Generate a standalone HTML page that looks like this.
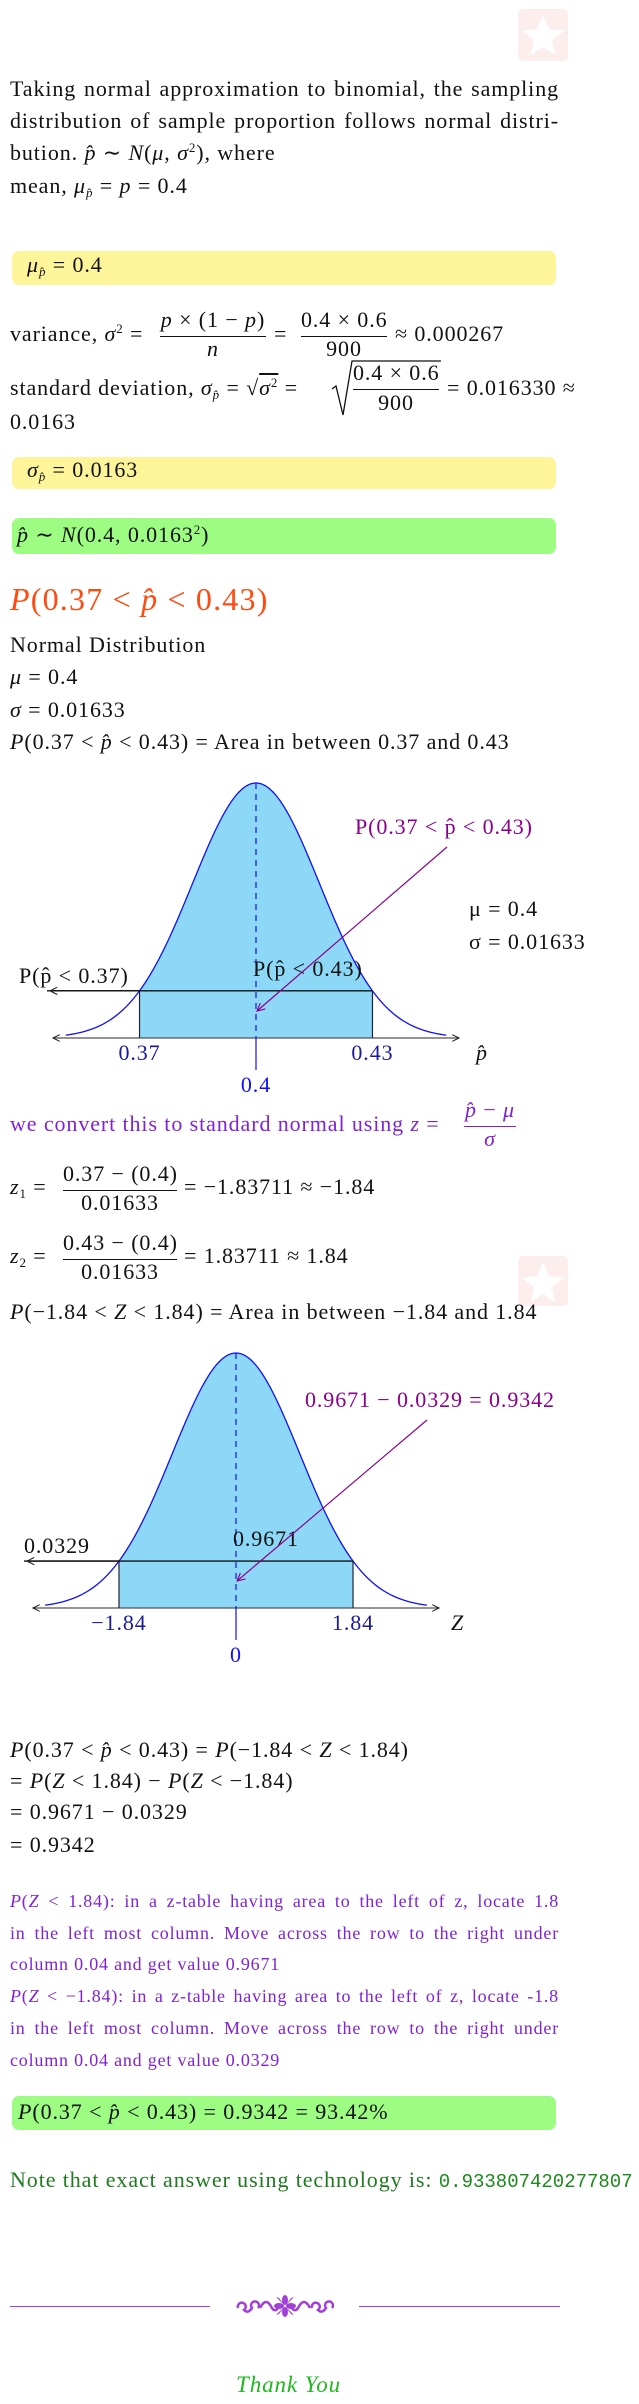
<!DOCTYPE html>
<html><head><meta charset="utf-8">
<style>
html,body{margin:0;padding:0;background:#fff;}
#page{position:relative;width:639px;height:2404px;overflow:hidden;font-family:"Liberation Serif",serif;color:#111;}
.l{position:absolute;white-space:nowrap;font-size:22px;line-height:22px;letter-spacing:0.9px;}
.j{text-align:justify;text-align-last:justify;white-space:normal;}
i{font-style:italic;}
sub{font-size:13px;vertical-align:-4px;line-height:0;}
sup{font-size:13px;vertical-align:8px;line-height:0;}
.box{position:absolute;left:12px;width:544px;border-radius:7px;}
.y{background:#fef59b;}
.g{background:#9dfc82;}
.bar{position:absolute;height:1px;background:#111;}
.pu{color:#7f22d8;font-size:18px;line-height:18px;letter-spacing:0.8px;}
svg text{font-family:"Liberation Serif",serif;letter-spacing:0.9px;}
</style></head><body>
<div id="page">

<svg style="position:absolute;left:518px;top:9px" width="50" height="52"><rect width="50" height="52" rx="5" fill="#fdeeee"/><polygon points="25,6 31,20 46,22 34,31 37,46 25,38 13,46 16,31 4,22 19,20" fill="#fff"/></svg>

<div class="l j" style="left:10px;top:78px;width:549px">Taking normal approximation to binomial, the sampling</div>
<div class="l j" style="left:10px;top:110px;width:549px">distribution of sample proportion follows normal distri-</div>
<div class="l" style="left:10px;top:142px">bution. <i>p̂</i> ∼ <i>N</i>(<i>μ</i>, <i>σ</i><sup>2</sup>), where</div>
<div class="l" style="left:10px;top:175px">mean, <i>μ</i><sub><i>p̂</i></sub> = <i>p</i> = 0.4</div>

<div class="box y" style="top:251px;height:34px"></div>
<div class="l" style="left:27px;top:254px"><i>μ</i><sub><i>p̂</i></sub> = 0.4</div>

<div class="l" style="left:10px;top:323px">variance, <i>σ</i><sup>2</sup> =</div>
<div class="l" style="left:160px;top:309px;width:106px;text-align:center"><i>p</i> × (1 − <i>p</i>)</div>
<div class="bar" style="left:160px;top:336px;width:106px"></div>
<div class="l" style="left:160px;top:338px;width:106px;text-align:center"><i>n</i></div>
<div class="l" style="left:274px;top:323px">=</div>
<div class="l" style="left:301px;top:309px;width:86px;text-align:center">0.4 × 0.6</div>
<div class="bar" style="left:301px;top:336px;width:86px"></div>
<div class="l" style="left:301px;top:338px;width:86px;text-align:center">900</div>
<div class="l" style="left:395px;top:323px">≈ 0.000267</div>

<div class="l" style="left:10px;top:377px">standard deviation, <i>σ</i><sub><i>p̂</i></sub> = √<span style="text-decoration:overline"><i>σ</i><sup>2</sup></span> =</div>
<svg style="position:absolute;left:330px;top:359px" width="112" height="60"><polyline points="2,30 6,27 13,56 22,2 111,2" fill="none" stroke="#111" stroke-width="1.3"/></svg>
<div class="l" style="left:353px;top:362px;width:86px;text-align:center">0.4 × 0.6</div>
<div class="bar" style="left:353px;top:389px;width:86px"></div>
<div class="l" style="left:353px;top:392px;width:86px;text-align:center">900</div>
<div class="l" style="left:447px;top:377px">= 0.016330 ≈</div>
<div class="l" style="left:10px;top:411px">0.0163</div>

<div class="box y" style="top:457px;height:32px"></div>
<div class="l" style="left:27px;top:459px"><i>σ</i><sub><i>p̂</i></sub> = 0.0163</div>

<div class="box g" style="top:518px;height:36px"></div>
<div class="l" style="left:17px;top:524px"><i>p̂</i> ∼ <i>N</i>(0.4, 0.0163<sup>2</sup>)</div>

<div class="l" style="left:10px;top:583px;font-size:32px;line-height:32px;letter-spacing:1.2px;color:#ff4a10"><i>P</i>(0.37 &lt; <i>p̂</i> &lt; 0.43)</div>
<div class="l" style="left:10px;top:634px">Normal Distribution</div>
<div class="l" style="left:10px;top:666px"><i>μ</i> = 0.4</div>
<div class="l" style="left:10px;top:699px"><i>σ</i> = 0.01633</div>
<div class="l" style="left:10px;top:731px"><i>P</i>(0.37 &lt; <i>p̂</i> &lt; 0.43) = Area in between 0.37 and 0.43</div>

<svg id="chart1" style="position:absolute;left:0;top:770px" width="639" height="340" viewBox="0 770 639 340"></svg>

<div class="l" style="left:10px;top:1113px;color:#7f22d8">we convert this to standard normal using <i>z</i> =</div>
<div class="l" style="left:464px;top:1099px;width:52px;text-align:center;color:#7f22d8"><i>p̂</i> − <i>μ</i></div>
<div class="bar" style="left:464px;top:1126px;width:52px;background:#7f22d8"></div>
<div class="l" style="left:464px;top:1128px;width:52px;text-align:center;color:#7f22d8"><i>σ</i></div>

<div class="l" style="left:10px;top:1176px"><i>z</i><sub>1</sub> =</div>
<div class="l" style="left:63px;top:1163px;width:114px;text-align:center">0.37 − (0.4)</div>
<div class="bar" style="left:63px;top:1190px;width:114px"></div>
<div class="l" style="left:63px;top:1192px;width:114px;text-align:center">0.01633</div>
<div class="l" style="left:184px;top:1176px">= −1.83711 ≈ −1.84</div>

<div class="l" style="left:10px;top:1245px"><i>z</i><sub>2</sub> =</div>
<div class="l" style="left:63px;top:1232px;width:114px;text-align:center">0.43 − (0.4)</div>
<div class="bar" style="left:63px;top:1259px;width:114px"></div>
<div class="l" style="left:63px;top:1261px;width:114px;text-align:center">0.01633</div>
<div class="l" style="left:184px;top:1245px">= 1.83711 ≈ 1.84</div>

<svg style="position:absolute;left:518px;top:1256px" width="50" height="50"><rect width="50" height="50" rx="5" fill="#fdeeee"/><polygon points="25,6 31,20 46,22 34,31 37,46 25,38 13,46 16,31 4,22 19,20" fill="#fff"/></svg>

<div class="l" style="left:10px;top:1301px"><i>P</i>(−1.84 &lt; <i>Z</i> &lt; 1.84) = Area in between −1.84 and 1.84</div>

<svg id="chart2" style="position:absolute;left:0;top:1340px" width="639" height="340" viewBox="0 1340 639 340"></svg>

<div class="l" style="left:10px;top:1739px"><i>P</i>(0.37 &lt; <i>p̂</i> &lt; 0.43) = <i>P</i>(−1.84 &lt; <i>Z</i> &lt; 1.84)</div>
<div class="l" style="left:10px;top:1770px">= <i>P</i>(<i>Z</i> &lt; 1.84) − <i>P</i>(<i>Z</i> &lt; −1.84)</div>
<div class="l" style="left:10px;top:1801px">= 0.9671 − 0.0329</div>
<div class="l" style="left:10px;top:1834px">= 0.9342</div>

<div class="l pu j" style="left:10px;top:1892px;width:549px"><i>P</i>(<i>Z</i> &lt; 1.84): in a z-table having area to the left of z, locate 1.8</div>
<div class="l pu j" style="left:10px;top:1924px;width:549px">in the left most column. Move across the row to the right under</div>
<div class="l pu" style="left:10px;top:1955px">column 0.04 and get value 0.9671</div>
<div class="l pu j" style="left:10px;top:1987px;width:549px"><i>P</i>(<i>Z</i> &lt; −1.84): in a z-table having area to the left of z, locate -1.8</div>
<div class="l pu j" style="left:10px;top:2019px;width:549px">in the left most column. Move across the row to the right under</div>
<div class="l pu" style="left:10px;top:2051px">column 0.04 and get value 0.0329</div>

<div class="box g" style="top:2096px;height:34px"></div>
<div class="l" style="left:18px;top:2101px"><i>P</i>(0.37 &lt; <i>p̂</i> &lt; 0.43) = 0.9342 = 93.42%</div>

<div class="l" style="left:10px;top:2169px;color:#1f7a1f">Note that exact answer using technology is: <span style="font-family:'Liberation Mono',monospace;font-size:19px;letter-spacing:0;color:#1a8a1a">0.933807420277807</span></div>

<div style="position:absolute;left:10px;top:2306px;width:200px;height:1px;background:#a040d8"></div>
<div style="position:absolute;left:359px;top:2306px;width:201px;height:1px;background:#a040d8"></div>
<svg style="position:absolute;left:234px;top:2294px" width="102" height="24">
<g fill="none" stroke="#a040d8" stroke-width="2.5"><path d="M4,14 a4,4 0 1 1 6,2 q4,4 8,-2 a4,4 0 1 1 6,0"/><path d="M26,14 q6,-12 12,0 q4,6 8,-4"/><path d="M56,10 q4,10 8,4 q6,-12 12,0 "/><path d="M78,14 a4,4 0 1 1 6,2 q4,4 8,-2 a4,4 0 1 1 6,0"/></g>
<g fill="#a040d8"><ellipse cx="51" cy="6" rx="3" ry="5"/><ellipse cx="51" cy="18" rx="3" ry="5"/><ellipse cx="45" cy="12" rx="5" ry="3"/><ellipse cx="57" cy="12" rx="5" ry="3"/><polygon points="42,3 51,12 45,4"/><polygon points="60,3 51,12 57,4"/><polygon points="42,21 51,12 45,20"/><polygon points="60,21 51,12 57,20"/></g>
</svg>
<div class="l" style="left:236px;top:2373px;font-size:23px;line-height:23px;color:#1fb81f;font-style:italic">Thank You</div>
</div>

<script>
// ---- chart 1 data ----
const c1Mean = 0.4;
const c1Sd = 0.01633;
const c1Bounds = [0.37, 0.43];
const c1TickLabels = ["0.37", "0.43"];
const c1MeanLabel = "0.4";
const c1Annot = "P(0.37 < p̂ < 0.43)";
// ---- chart 2 data ----
const c2Mean = 0;
const c2Sd = 1;
const c2Bounds = [-1.84, 1.84];
const c2TickLabels = ["−1.84", "1.84"];
const c2MeanLabel = "0";
const c2LeftArea = ["0.0329"];
const c2RightArea = ["0.9671"];
const c2Annot = "0.9671 − 0.0329 = 0.9342";

const NS = "http://www.w3.org/2000/svg";
function mk(svg, tag, attrs, txt) {
  const e = document.createElementNS(NS, tag);
  for (const k in attrs) e.setAttribute(k, attrs[k]);
  if (txt !== undefined) e.textContent = txt;
  svg.appendChild(e);
  return e;
}

function drawChart(svg, o) {
  const sx = v => o.cx + (v - o.mean) / o.sd * o.pxPerSd;
  const sy = d => o.base - o.peak * d;
  const pdf = v => Math.exp(-0.5 * Math.pow((v - o.mean) / o.sd, 2));
  const defs = mk(svg, "defs", {});
  const m = mk(defs, "marker", {id: o.id + "ah", viewBox: "0 0 10 10", refX: "9", refY: "5", markerWidth: "7", markerHeight: "7", orient: "auto-start-reverse"});
  mk(m, "path", {d: "M1,1 L9,5 L1,9", fill: "none", stroke: "#222", "stroke-width": "1.2"});
  const m2 = mk(defs, "marker", {id: o.id + "ap", viewBox: "0 0 10 10", refX: "9", refY: "5", markerWidth: "8", markerHeight: "8", orient: "auto"});
  mk(m2, "path", {d: "M1,1 L9,5 L1,9", fill: "none", stroke: "#8b008b", "stroke-width": "1.2"});

  let d = "M" + sx(o.bounds[0]) + "," + o.base;
  for (let i = 0; i <= 80; i++) {
    const v = o.bounds[0] + (o.bounds[1] - o.bounds[0]) * i / 80;
    d += " L" + sx(v).toFixed(2) + "," + sy(pdf(v)).toFixed(2);
  }
  d += " L" + sx(o.bounds[1]) + "," + o.base + " Z";
  const area = mk(svg, "path", {d: d, fill: "#8ed8f7", stroke: "none"});
  
  

  let c = "";
  for (let i = 0; i <= 200; i++) {
    const v = o.mean - 3 * o.sd + 6 * o.sd * i / 200;
    c += (i ? " L" : "M") + sx(v).toFixed(2) + "," + sy(pdf(v)).toFixed(2);
  }
  const curve = mk(svg, "path", {d: c, fill: "none", stroke: "#1010ff", "stroke-width": "1.3"});
  
  

  const ax = mk(svg, "line", {x1: sx(o.mean) - o.axisHalf, x2: sx(o.mean) + o.axisHalf, y1: o.base, y2: o.base, stroke: "#555", "stroke-width": "1.2", "marker-start": "url(#" + o.id + "ah)", "marker-end": "url(#" + o.id + "ah)"});
  
  

  const yTop = sy(pdf(o.bounds[1]));
  const yLow = sy(pdf(o.bounds[0]));
  mk(svg, "line", {x1: sx(o.bounds[1]), x2: sx(o.bounds[1]), y1: yTop, y2: o.base, stroke: "#223", "stroke-width": "1.2"});
  mk(svg, "line", {x1: sx(o.bounds[0]), x2: sx(o.bounds[0]), y1: yLow, y2: o.base, stroke: "#223", "stroke-width": "1.2"});
  const hl = mk(svg, "line", {x1: o.leftEdge, x2: sx(o.bounds[1]), y1: yTop, y2: yTop, stroke: "#111", "stroke-width": "1.3"});
  
  
  const al = mk(svg, "line", {x1: sx(o.bounds[0]), x2: o.leftEdge + 3, y1: yLow, y2: yLow, stroke: "#111", "stroke-width": "1.3", "marker-end": "url(#" + o.id + "ah)"});
  
  

  mk(svg, "line", {x1: sx(o.mean), x2: sx(o.mean), y1: sy(1), y2: o.base, stroke: "#1010ff", "stroke-width": "1.2", "stroke-dasharray": "6,5"});
  mk(svg, "line", {x1: sx(o.mean), x2: sx(o.mean), y1: o.base, y2: o.base + 32, stroke: "#1010ff", "stroke-width": "1.2"});
  const ml = mk(svg, "text", {x: sx(o.mean), y: o.base + 54, "text-anchor": "middle", "font-size": "22", fill: "#1010ff"}, o.meanLabel);
  
  

  o.bounds.forEach((b, i) => {
    const t = mk(svg, "text", {x: sx(b), y: o.base + 22, "text-anchor": "middle", "font-size": "22", fill: "#1a1a9a"}, o.ticks[i]);
    
    
  });
  const xl = mk(svg, "text", {x: o.axisLabelX, y: o.base + 22, "font-size": "22", "font-style": "italic", fill: "#111"}, o.axisLabel);
  
  

  const lt = mk(svg, "text", {x: o.leftLabelX, y: yLow - 8, "font-size": "22", fill: "#111"}, o.leftLabel);
  
  
  const rt = mk(svg, "text", {x: sx(o.mean) - 3, y: yTop - 15, "font-size": "22", fill: "#111"}, o.rightLabel);
  
  

  const an = mk(svg, "text", {x: o.annotX, y: o.annotY, "font-size": "22", fill: "#8b008b"}, o.annot);
  
  
  const pl = mk(svg, "line", {x1: o.annotLineX, y1: o.annotY + 13, x2: sx(o.mean) + 1, y2: o.base - 27, stroke: "#8b008b", "stroke-width": "1.2", "marker-end": "url(#" + o.id + "ap)"});
  
  

  if (o.extra) o.extra(svg);
}

drawChart(document.getElementById("chart1"), {
  id: "c1", mean: c1Mean, sd: c1Sd, bounds: c1Bounds, ticks: c1TickLabels, meanLabel: c1MeanLabel,
  cx: 256, pxPerSd: 63.4, base: 1038, peak: 255, axisHalf: 203, leftEdge: 47,
  axisLabel: "p̂", axisLabelX: 476,
  leftLabel: "P(p̂ < 0.37)", leftLabelX: 19, rightLabel: "P(p̂ < 0.43)",
  annot: c1Annot, annotX: 355, annotY: 834, annotLineX: 447,
  extra: function(svg) {
    const a = mk(svg, "text", {x: 469, y: 916, "font-size": "22", fill: "#111"}, "μ = 0.4");
    
    
    const b = mk(svg, "text", {x: 469, y: 949, "font-size": "22", fill: "#111"}, "σ = 0.01633");
    
    
  }
});

drawChart(document.getElementById("chart2"), {
  id: "c2", mean: c2Mean, sd: c2Sd, bounds: c2Bounds, ticks: c2TickLabels, meanLabel: c2MeanLabel,
  cx: 236, pxPerSd: 63.6, base: 1608, peak: 255, axisHalf: 203, leftEdge: 24,
  axisLabel: "Z", axisLabelX: 451,
  leftLabel: c2LeftArea[0], leftLabelX: 24, rightLabel: c2RightArea[0],
  annot: c2Annot, annotX: 305, annotY: 1407, annotLineX: 427
});
</script>
</body></html>
